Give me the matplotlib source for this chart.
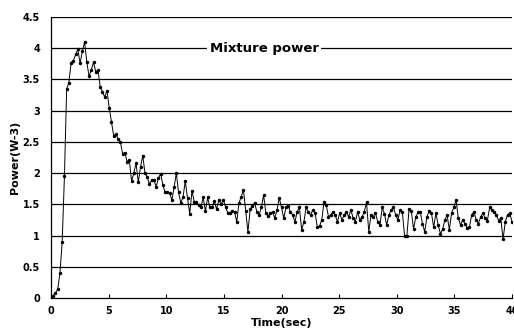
import numpy as np
import matplotlib
matplotlib.use("Agg")
import matplotlib.pyplot as plt

power = [
    0.02, 0.04, 0.08, 0.14, 0.40, 0.90, 1.95, 3.35, 3.45, 3.77,
    3.80, 3.90, 3.98, 3.76, 3.95, 4.10, 3.78, 3.55, 3.65, 3.78,
    3.62, 3.65, 3.38, 3.30, 3.22, 3.32, 3.05, 2.82, 2.60, 2.62,
    2.55, 2.50, 2.31, 2.33, 2.18, 2.21, 1.87, 2.00, 2.16, 1.85,
    2.10, 2.28, 2.00, 1.94, 1.82, 1.89, 1.89, 1.78, 1.92, 1.99,
    1.81, 1.69, 1.69, 1.68, 1.57, 1.77, 2.00, 1.69, 1.52, 1.62,
    1.87, 1.60, 1.35, 1.72, 1.54, 1.54, 1.49, 1.45, 1.61, 1.39,
    1.61, 1.45, 1.45,
    1.55, 1.42, 1.57, 1.50, 1.57, 1.46, 1.36,
    1.36, 1.40, 1.38, 1.22, 1.52, 1.62, 1.73, 1.40, 1.06, 1.42,
    1.48, 1.52, 1.38, 1.33, 1.45, 1.65, 1.36, 1.31, 1.36, 1.38,
    1.28, 1.41, 1.60, 1.45, 1.28, 1.45, 1.48, 1.38, 1.33, 1.22,
    1.38, 1.45, 1.09, 1.22, 1.45, 1.38, 1.33, 1.41, 1.36, 1.14,
    1.15, 1.25, 1.54,
    1.49, 1.30, 1.33, 1.38, 1.33, 1.22, 1.36, 1.25,
    1.33, 1.38, 1.30, 1.41, 1.28, 1.22, 1.38, 1.25, 1.30, 1.38,
    1.53, 1.06, 1.33, 1.30, 1.36, 1.22, 1.17, 1.45, 1.35, 1.17,
    1.33, 1.41, 1.45, 1.33, 1.25, 1.41, 1.38, 0.99, 0.99, 1.42,
    1.40, 1.10, 1.30, 1.37, 1.38, 1.19, 1.06, 1.30, 1.40, 1.36,
    1.13, 1.36, 1.17, 1.03, 1.10, 1.25, 1.33, 1.09, 1.36, 1.45,
    1.57, 1.28, 1.17, 1.25, 1.19, 1.12, 1.14, 1.33, 1.38, 1.25,
    1.19, 1.30, 1.36, 1.28, 1.24, 1.45, 1.41, 1.38, 1.33, 1.24,
    1.28, 0.94, 1.22, 1.33, 1.36, 1.22,
]
t_start, t_end = 0.0, 40.0
time = np.linspace(t_start, t_end, len(power))

x_ticks = [0, 5, 10, 15, 20, 25, 30, 35, 40]
y_ticks = [0, 0.5, 1, 1.5, 2, 2.5, 3, 3.5, 4, 4.5]
y_labels = ["0", "0.5", "1", "1.5", "2", "2.5", "3", "3.5", "4", "4.5"]
series_name = "Mixture power"

fig = plt.figure(figsize=(5.14, 3.32), dpi=100)
ax = fig.add_axes([51 / 514, 34 / 332, 461 / 514, 281 / 332])

for y in y_ticks[1:]:
    ax.axhline(y, color="black", lw=0.9, zorder=1)

ax.plot(time, power, color="black", lw=0.7, marker="o", ms=2.5,
        markerfacecolor="black", markeredgewidth=0, zorder=3)

ax.set_xlim(0, 40)
ax.set_ylim(0, 4.5)
ax.set_xticks(x_ticks)
ax.set_xticklabels([str(v) for v in x_ticks], fontweight="bold", fontsize=7)
ax.set_yticks(y_ticks)
ax.set_yticklabels(y_labels, fontweight="bold", fontsize=7)
ax.tick_params(axis="x", direction="in", length=3, width=0.8, pad=6)
ax.tick_params(axis="y", length=0, pad=8)
for s in ["top", "right"]:
    ax.spines[s].set_visible(False)
for s in ["left", "bottom"]:
    ax.spines[s].set_linewidth(0.9)

ax.set_xlabel("Time(sec)", fontweight="bold", fontsize=8, labelpad=1)
ax.set_ylabel("Power(W-3)", fontweight="bold", fontsize=8, labelpad=2)

ax.text(18.5, 4.0, series_name, ha="center", va="center", fontsize=9.5,
        fontweight="bold", zorder=4,
        bbox=dict(facecolor="white", edgecolor="none", pad=2))

fig.savefig("out.png", dpi=100)
